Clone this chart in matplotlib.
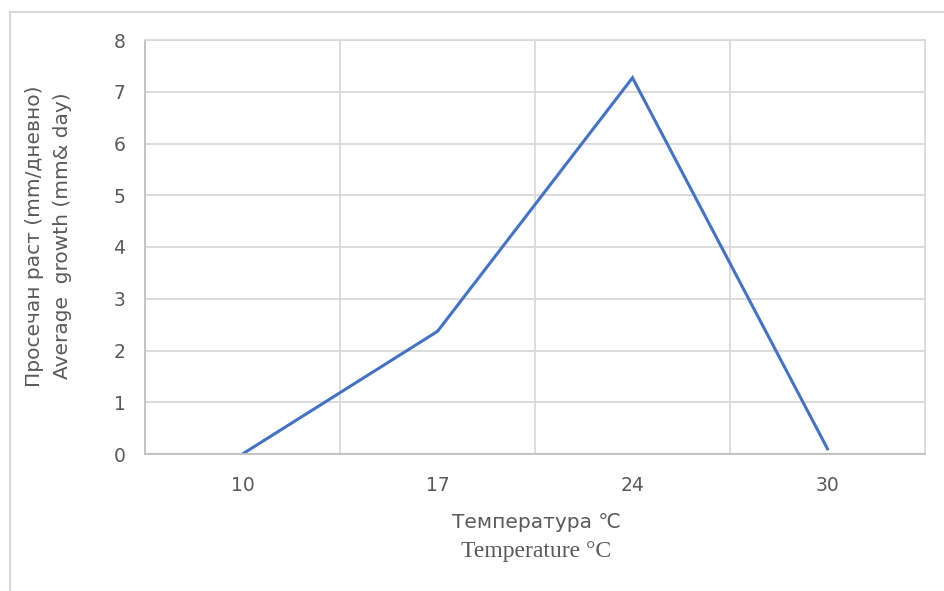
import matplotlib
matplotlib.use('Agg')
import matplotlib.pyplot as plt
from matplotlib.lines import Line2D

temps = ['10', '17', '24', '30']
growth = [0.0, 2.37, 7.27, 0.1]
y_ticks = [0, 1, 2, 3, 4, 5, 6, 7, 8]

W, H = 944, 591
fig = plt.figure(figsize=(W / 100, H / 100), dpi=100)

# light frame of the chart area (cropped on right/bottom)
fig.add_artist(Line2D([10 / W, 1], [1 - 12 / H, 1 - 12 / H], color='#d9d9d9', lw=1.5))
fig.add_artist(Line2D([10 / W, 10 / W], [0, 1 - 12 / H], color='#d9d9d9', lw=1.5))

ax = fig.add_axes([145 / W, (H - 454) / H, 780 / W, 414 / H])
x = list(range(len(temps)))
ax.plot(x, growth, color='#4472c4', lw=2.2, solid_joinstyle='miter')

ax.set_xlim(-0.5, len(temps) - 0.5)
ax.set_ylim(0, 8)
ax.set_yticks(y_ticks)
ax.set_xticks(x)
ax.set_xticklabels(temps)

for xv in [0.5, 1.5, 2.5]:
    ax.axvline(xv, color='#d9d9d9', lw=1.3, zorder=0)
ax.yaxis.grid(True, color='#d9d9d9', lw=1.3)
ax.set_axisbelow(True)

for s in ['top', 'right']:
    ax.spines[s].set_color('#d9d9d9')
    ax.spines[s].set_linewidth(1.3)
for s in ['left', 'bottom']:
    ax.spines[s].set_color('#bfbfbf')
    ax.spines[s].set_linewidth(1.3)

ax.tick_params(length=0, labelsize=13.5, labelcolor='#595959')
ax.tick_params(axis='y', pad=14)
ax.tick_params(axis='x', pad=16)

fig.text(35 / W, 1 - 236 / H, 'Просечан раст (mm/дневно)', rotation=90,
         ha='center', va='center', fontsize=14.5, color='#595959')
fig.text(62 / W, 1 - 236 / H, 'Average  growth (mm& day)', rotation=90,
         ha='center', va='center', fontsize=14.5, color='#595959')
fig.text(537 / W, 1 - 522 / H, 'Температура ℃', ha='center', va='center',
         fontsize=14.5, color='#595959')
fig.text(536 / W, 1 - 551 / H, 'Temperature °C', ha='center', va='center',
         fontsize=17, color='#595959', family=['Liberation Serif', 'DejaVu Serif'])

fig.savefig('out.png', dpi=100)
